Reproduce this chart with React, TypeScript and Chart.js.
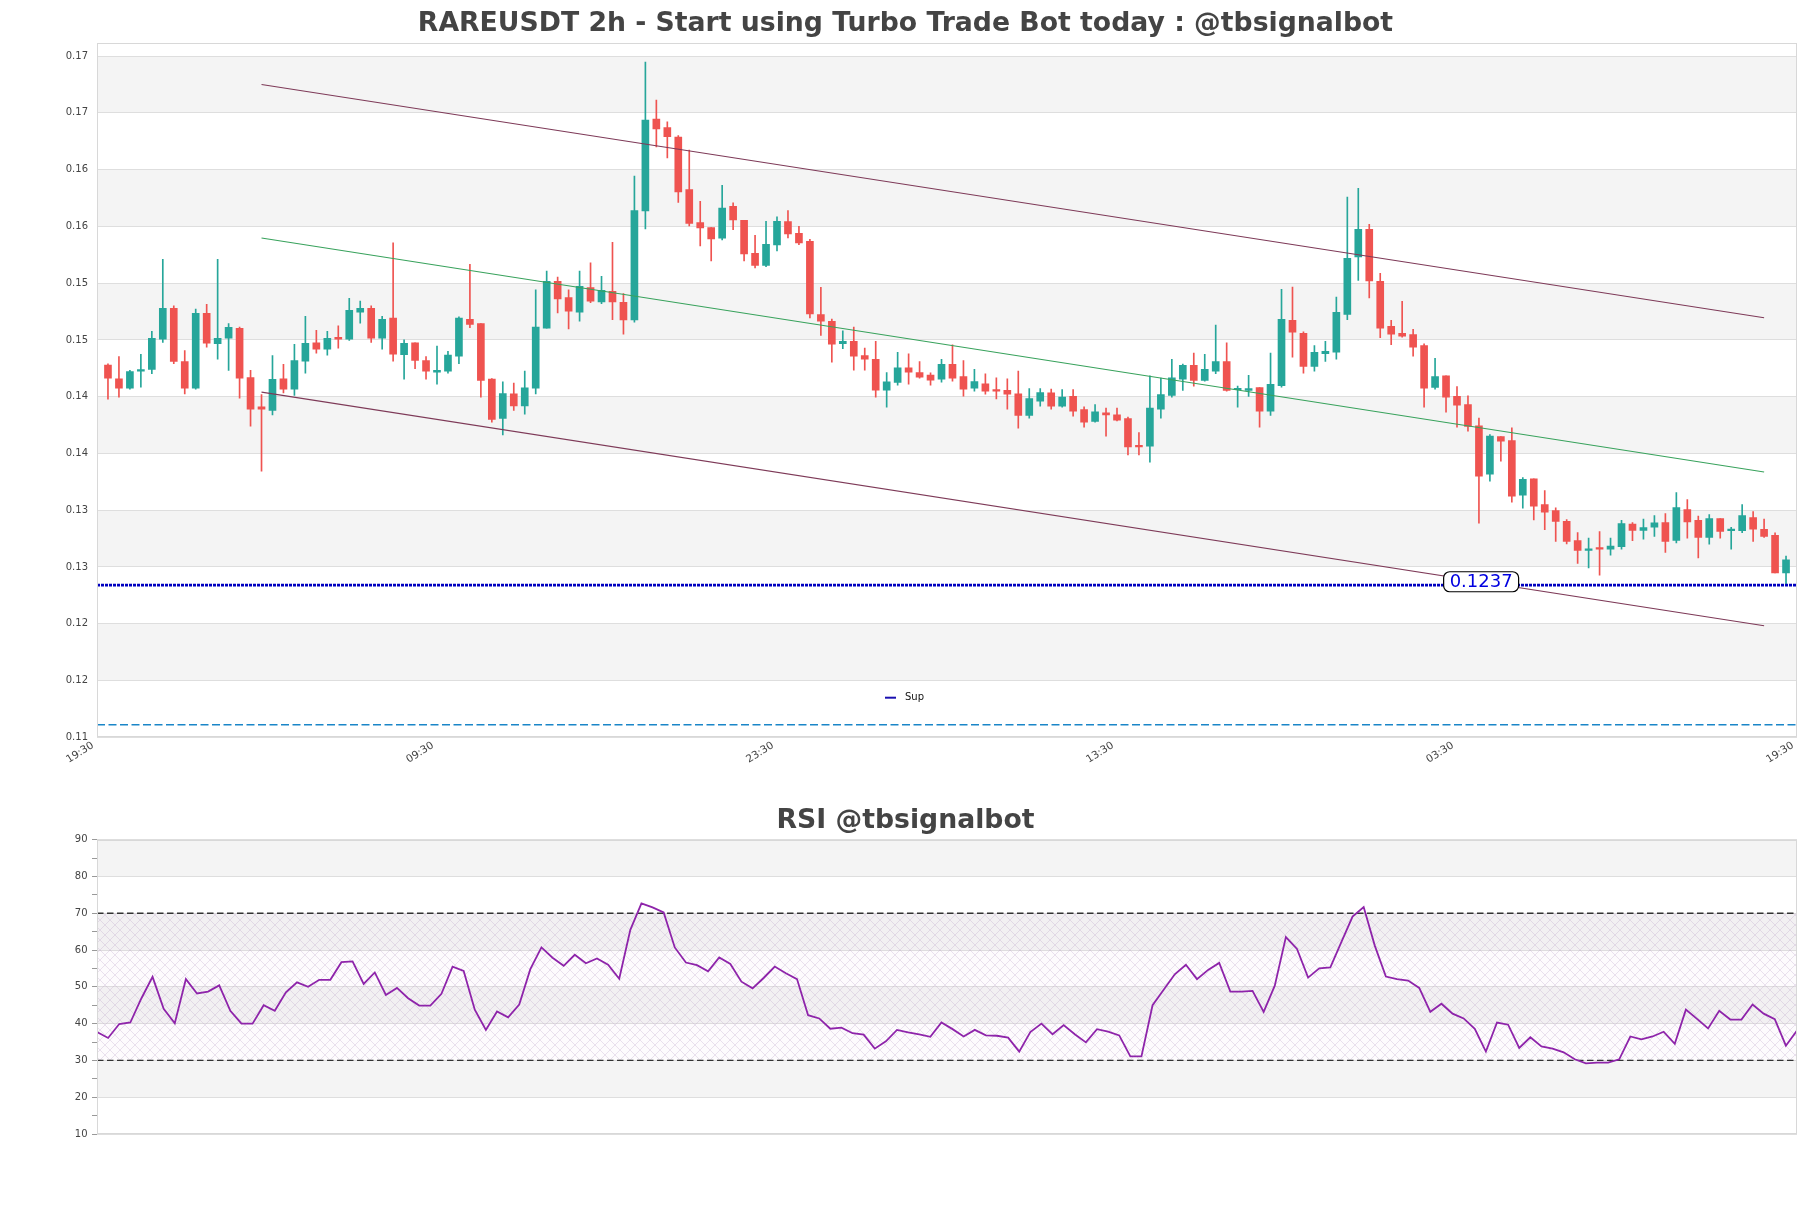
import React, { useEffect, useRef } from "react";
import { Chart, registerables } from "chart.js";

Chart.register(...registerables);

// ---------------- data ----------------
const mainTitle = "RAREUSDT 2h - Start using Turbo Trade Bot today : @tbsignalbot";
const rsiTitle = "RSI @tbsignalbot";

const opens = [
  0.14278, 0.14158, 0.14075, 0.14225, 0.1424, 0.14507, 0.14778, 0.1431, 0.14075, 0.14734,
  0.14466, 0.14516, 0.14601, 0.14169, 0.13911, 0.13878, 0.14158, 0.14066, 0.14313, 0.14475,
  0.14419, 0.14522, 0.14507, 0.14745, 0.14778, 0.14516, 0.14693, 0.14369, 0.14475, 0.14319,
  0.14216, 0.14225, 0.14357, 0.14681, 0.14643, 0.14155, 0.13808, 0.14025, 0.13919, 0.14075,
  0.14604, 0.15016, 0.14872, 0.14745, 0.1496, 0.14834, 0.14928, 0.14831, 0.14675, 0.15636,
  0.16444, 0.16371, 0.16286, 0.15824, 0.15533, 0.15489, 0.15395, 0.15677, 0.15554, 0.15263,
  0.15157, 0.15336, 0.15542, 0.15439, 0.15369, 0.14722, 0.14663, 0.14466, 0.14487, 0.14363,
  0.14328, 0.14058, 0.14125, 0.14255, 0.14213, 0.1419, 0.14155, 0.14284, 0.14178, 0.14075,
  0.14113, 0.14063, 0.14055, 0.14025, 0.13834, 0.13961, 0.14034, 0.13917, 0.14002, 0.13887,
  0.13781, 0.13858, 0.1384, 0.13808, 0.1357, 0.13564, 0.1389, 0.14011, 0.14155, 0.14275,
  0.14143, 0.14225, 0.1431, 0.14061, 0.14055, 0.14081, 0.13872, 0.14096, 0.14672, 0.14557,
  0.14266, 0.14378, 0.14393, 0.14725, 0.1523, 0.15474, 0.15016, 0.14619, 0.14557, 0.14548,
  0.14451, 0.14081, 0.14184, 0.14002, 0.13931, 0.13743, 0.13317, 0.13649, 0.13614, 0.13132,
  0.13276, 0.13049, 0.12996, 0.12902, 0.12732, 0.12647, 0.1267, 0.12656, 0.12679, 0.12879,
  0.12823, 0.1285, 0.12891, 0.12735, 0.13005, 0.12911, 0.12761, 0.12926, 0.1282, 0.1282,
  0.12935, 0.12832, 0.12779, 0.12447,
];

const closes = [
  0.14163, 0.14075, 0.14222, 0.14237, 0.14513, 0.14778, 0.1431, 0.14075, 0.14734, 0.14472,
  0.14513, 0.1461, 0.14163, 0.1389, 0.1389, 0.14152, 0.14066, 0.14319, 0.14469, 0.14419,
  0.14513, 0.14507, 0.1476, 0.14778, 0.14516, 0.14681, 0.14375, 0.14469, 0.14319, 0.14225,
  0.14231, 0.14366, 0.14693, 0.14637, 0.14143, 0.13799, 0.14028, 0.13919, 0.14078, 0.14613,
  0.15016, 0.1486, 0.14754, 0.14972, 0.14842, 0.14936, 0.14834, 0.14675, 0.15639, 0.16436,
  0.16359, 0.16289, 0.15804, 0.15527, 0.15486, 0.15389, 0.1566, 0.15557, 0.15257, 0.15157,
  0.15342, 0.15545, 0.15433, 0.15354, 0.14728, 0.14666, 0.14463, 0.14487, 0.14357, 0.14331,
  0.14058, 0.14131, 0.14255, 0.14216, 0.14172, 0.14146, 0.14284, 0.14163, 0.14066, 0.14134,
  0.14049, 0.14049, 0.14022, 0.13834, 0.13984, 0.14037, 0.13917, 0.13996, 0.13872, 0.13775,
  0.13867, 0.1384, 0.13793, 0.13558, 0.13558, 0.13899, 0.14019, 0.14166, 0.14275, 0.14143,
  0.1424, 0.1431, 0.14055, 0.14066, 0.14072, 0.13872, 0.14108, 0.14681, 0.14569, 0.14266,
  0.1439, 0.14399, 0.14743, 0.15219, 0.15474, 0.15019, 0.14604, 0.14551, 0.14534, 0.14437,
  0.14075, 0.14178, 0.13996, 0.13925, 0.13737, 0.13299, 0.13652, 0.13608, 0.13123, 0.13273,
  0.13035, 0.12982, 0.12902, 0.12726, 0.12647, 0.12658, 0.12656, 0.12685, 0.12882, 0.12823,
  0.12847, 0.12888, 0.12726, 0.13023, 0.12897, 0.12761, 0.12926, 0.12814, 0.12829, 0.12952,
  0.12832, 0.1277, 0.12447, 0.12564,
];

const highs = [
  0.1429, 0.14354, 0.14231, 0.14372, 0.14575, 0.1521, 0.14801, 0.14407, 0.14772, 0.14813,
  0.1521, 0.14643, 0.14613, 0.14231, 0.14019, 0.14363, 0.14284, 0.1446, 0.14707, 0.14584,
  0.14575, 0.14625, 0.14866, 0.14842, 0.14801, 0.14707, 0.15354, 0.14501, 0.14475, 0.14354,
  0.14446, 0.14399, 0.14704, 0.15166, 0.14643, 0.1416, 0.14131, 0.14119, 0.14225, 0.14942,
  0.15107, 0.15054, 0.14942, 0.15107, 0.15178, 0.1506, 0.1536, 0.14907, 0.15942, 0.16947,
  0.16612, 0.16421, 0.163, 0.16171, 0.15721, 0.15489, 0.15862, 0.15707, 0.15554, 0.15422,
  0.15545, 0.15583, 0.15639, 0.15501, 0.15386, 0.14963, 0.14684, 0.14581, 0.14613, 0.14428,
  0.14487, 0.14213, 0.1439, 0.14378, 0.1431, 0.1421, 0.14328, 0.14457, 0.14319, 0.1424,
  0.14202, 0.14166, 0.14158, 0.14225, 0.14072, 0.14072, 0.14066, 0.14063, 0.14063, 0.13911,
  0.13931, 0.13899, 0.13899, 0.1382, 0.13684, 0.14184, 0.14163, 0.14328, 0.14287, 0.14384,
  0.14372, 0.14631, 0.14475, 0.14093, 0.14187, 0.14081, 0.14384, 0.14945, 0.14966, 0.14572,
  0.14451, 0.14487, 0.14878, 0.15757, 0.15836, 0.15519, 0.15086, 0.14672, 0.1484, 0.14593,
  0.14466, 0.14337, 0.14184, 0.1409, 0.14008, 0.13811, 0.13667, 0.13649, 0.13725, 0.13287,
  0.13276, 0.13173, 0.1302, 0.12917, 0.12802, 0.12755, 0.12811, 0.12755, 0.12911, 0.12891,
  0.12923, 0.12952, 0.1297, 0.13155, 0.13093, 0.12949, 0.12961, 0.12926, 0.1285, 0.13049,
  0.12988, 0.12923, 0.128, 0.12597,
];

const lows = [
  0.13978, 0.13996, 0.14066, 0.14084, 0.14202, 0.14478, 0.1429, 0.14025, 0.14066, 0.14437,
  0.14331, 0.14231, 0.13987, 0.1374, 0.13343, 0.1384, 0.14034, 0.14011, 0.14208, 0.14384,
  0.14366, 0.14428, 0.14496, 0.14648, 0.14478, 0.14419, 0.14313, 0.14155, 0.14246, 0.14155,
  0.14111, 0.14208, 0.1429, 0.14607, 0.13996, 0.13775, 0.13664, 0.13878, 0.13846, 0.14025,
  0.14604, 0.14737, 0.14596, 0.14666, 0.14828, 0.14819, 0.14678, 0.14551, 0.14657, 0.15477,
  0.162, 0.16103, 0.1571, 0.15504, 0.15327, 0.15195, 0.1538, 0.15471, 0.15195, 0.15133,
  0.15145, 0.15283, 0.15398, 0.15339, 0.14693, 0.1454, 0.14305, 0.14422, 0.14234, 0.14234,
  0.13996, 0.13908, 0.14102, 0.14111, 0.14163, 0.14102, 0.14128, 0.14137, 0.14005, 0.14049,
  0.14022, 0.13981, 0.1389, 0.13723, 0.13811, 0.13917, 0.1389, 0.13908, 0.13828, 0.13731,
  0.13775, 0.13652, 0.13787, 0.13487, 0.13487, 0.13423, 0.13811, 0.13996, 0.14055, 0.14093,
  0.14137, 0.14202, 0.14049, 0.13908, 0.14002, 0.13731, 0.13834, 0.14084, 0.14349, 0.14208,
  0.14225, 0.1431, 0.14331, 0.14678, 0.15025, 0.14869, 0.14519, 0.14457, 0.14525, 0.14357,
  0.13908, 0.14066, 0.13864, 0.13731, 0.13696, 0.12885, 0.13255, 0.13431, 0.1307, 0.13017,
  0.12914, 0.12829, 0.12726, 0.12703, 0.12532, 0.12491, 0.12429, 0.12603, 0.12658, 0.12732,
  0.12744, 0.1277, 0.12629, 0.12711, 0.12753, 0.12579, 0.127, 0.12753, 0.12656, 0.12802,
  0.12726, 0.12761, 0.12447, 0.1235,
];

const rsiValues = [
  37.7, 36.1, 39.9, 40.3, 46.9, 52.7, 44.0, 40.1, 52.1, 48.2,
  48.7, 50.4, 43.5, 40.0, 40.0, 45.0, 43.5, 48.5, 51.2, 50.0,
  51.9, 51.9, 56.7, 56.9, 50.8, 53.9, 47.8, 49.7, 46.9, 44.9,
  44.9, 48.1, 55.5, 54.3, 43.8, 38.3, 43.3, 41.7, 45.2, 54.8,
  60.7, 57.9, 55.7, 58.7, 56.4, 57.7, 56.0, 52.2, 65.5, 72.7,
  71.6, 70.2, 60.7, 56.6, 55.9, 54.2, 58.0, 56.2, 51.4, 49.6,
  52.4, 55.5, 53.7, 52.1, 42.3, 41.4, 38.6, 38.9, 37.4, 37.0,
  33.2, 35.2, 38.3, 37.6, 37.1, 36.4, 40.3, 38.5, 36.5, 38.3,
  36.8, 36.7, 36.2, 32.4, 37.7, 40.0, 37.1, 39.6, 37.1, 34.9,
  38.5, 37.8, 36.8, 31.1, 31.1, 45.0, 49.2, 53.4, 56.0, 52.1,
  54.6, 56.5, 48.7, 48.7, 48.9, 43.2, 50.3, 63.5, 60.3, 52.5,
  55.0, 55.3, 62.2, 69.1, 71.7, 61.2, 52.8, 52.1, 51.7, 49.7,
  43.2, 45.4, 42.7, 41.4, 38.6, 32.4, 40.3, 39.7, 33.4, 36.3,
  33.8, 33.2, 32.2, 30.3, 29.2, 29.4, 29.4, 30.3, 36.5, 35.7,
  36.5, 37.8, 34.5, 43.8, 41.3, 38.7, 43.5, 41.1, 41.1, 45.2,
  42.7, 41.2, 34.0, 38.1,
];

const xTickPositions = [0, 31, 62, 93, 124, 155];
const xTickLabels = ["19:30", "09:30", "23:30", "13:30", "03:30", "19:30"];
const yTickValues = [0.11, 0.115, 0.12, 0.125, 0.13, 0.135, 0.14, 0.145, 0.15, 0.155, 0.16, 0.165, 0.17];
const yTickLabels = ["0.11", "0.12", "0.12", "0.13", "0.13", "0.14", "0.14", "0.15", "0.15", "0.16", "0.16", "0.17", "0.17"];
const priceBands = [[0.115, 0.12], [0.125, 0.13], [0.135, 0.14], [0.145, 0.15], [0.155, 0.16], [0.165, 0.17]];

const trendX = [15, 152];
const upperTrend = [0.1675, 0.14695];
const midTrend = [0.15398, 0.13337];
const lowerTrend = [0.1404, 0.11983];
const supLevel = 0.1234;
const baseLevel = 0.1111;
const priceLabelText = "0.1237";
const priceLabelValue = 0.1237;
const priceLabelX = 126.2;

const rsiTickValues = [10, 15, 20, 25, 30, 35, 40, 45, 50, 55, 60, 65, 70, 75, 80, 85, 90];
const rsiTickLabels = ["10", "", "20", "", "30", "", "40", "", "50", "", "60", "", "70", "", "80", "", "90"];
const rsiBands = [[20, 30], [40, 50], [60, 70], [80, 90]];
const rsiUpper = 70;
const rsiLower = 30;

// ---------------- styling ----------------
const UP = "#26a69a";
const DOWN = "#ef5350";
const FONT = "'DejaVu Sans', 'Liberation Sans', sans-serif";
const W = 1811;
const MAIN_H = 790;
const RSI_H = 418;

const bandsPlugin = {
  id: "bands",
  beforeDraw(chart: any, _args: any, opts: any) {
    const { ctx, chartArea: ca, scales } = chart;
    ctx.save();
    ctx.fillStyle = "#ffffff";
    ctx.fillRect(0, 0, chart.width, chart.height);
    ctx.fillStyle = opts.color;
    for (const [a, b] of opts.bands) {
      const yTop = scales.y.getPixelForValue(b);
      const yBot = scales.y.getPixelForValue(a);
      ctx.fillRect(ca.left, yTop, ca.right - ca.left, yBot - yTop);
    }
    ctx.restore();
  },
  afterDraw(chart: any) {
    const { ctx, chartArea: ca } = chart;
    ctx.save();
    ctx.strokeStyle = "#d8d8d8";
    ctx.lineWidth = 1;
    ctx.strokeRect(Math.round(ca.left) + 0.5, Math.round(ca.top) + 0.5, Math.round(ca.right - ca.left) - 1, Math.round(ca.bottom - ca.top) - 1);
    ctx.restore();
  },
};

const hatchPlugin = {
  id: "hatch",
  beforeDatasetsDraw(chart: any, _args: any, opts: any) {
    if (!opts || opts.from == null) return;
    const { ctx, chartArea: ca, scales } = chart;
    const yTop = scales.y.getPixelForValue(opts.to);
    const yBot = scales.y.getPixelForValue(opts.from);
    const pc = document.createElement("canvas");
    pc.width = 10;
    pc.height = 10;
    const p = pc.getContext("2d") as CanvasRenderingContext2D;
    p.strokeStyle = "rgba(180,150,195,0.45)";
    p.lineWidth = 0.6;
    p.beginPath();
    p.moveTo(0, 0);
    p.lineTo(10, 10);
    p.moveTo(10, 0);
    p.lineTo(0, 10);
    p.stroke();
    ctx.save();
    ctx.fillStyle = "rgba(225,200,232,0.08)";
    ctx.fillRect(ca.left, yTop, ca.right - ca.left, yBot - yTop);
    const pat = ctx.createPattern(pc, "repeat");
    if (pat) {
      ctx.fillStyle = pat;
      ctx.fillRect(ca.left, yTop, ca.right - ca.left, yBot - yTop);
    }
    ctx.restore();
  },
};

const priceLabelPlugin = {
  id: "priceLabel",
  afterDatasetsDraw(chart: any, _args: any, opts: any) {
    if (!opts || !opts.text) return;
    const { ctx, scales } = chart;
    const x = scales.x.getPixelForValue(opts.x);
    const y = scales.y.getPixelForValue(opts.value);
    ctx.save();
    ctx.font = `18px ${FONT}`;
    const w = ctx.measureText(opts.text).width + 12;
    const h = 20;
    ctx.beginPath();
    if ((ctx as any).roundRect) (ctx as any).roundRect(x - w / 2, y - h / 2, w, h, 6);
    else ctx.rect(x - w / 2, y - h / 2, w, h);
    ctx.fillStyle = "#ffffff";
    ctx.fill();
    ctx.lineWidth = 1.2;
    ctx.strokeStyle = "#000000";
    ctx.stroke();
    ctx.fillStyle = "#0000e0";
    ctx.textAlign = "center";
    ctx.textBaseline = "middle";
    ctx.fillText(opts.text, x, y + 1);
    ctx.restore();
  },
};

const insideLegendPlugin = {
  id: "insideLegend",
  afterDatasetsDraw(chart: any, _args: any, opts: any) {
    if (!opts || !opts.label) return;
    const ds = chart.data.datasets.find((d: any) => d.label === opts.label);
    if (!ds) return;
    const { ctx, chartArea: ca } = chart;
    const x = ca.left + opts.offsetX;
    const y = ca.bottom - opts.offsetY;
    ctx.save();
    ctx.strokeStyle = opts.color;
    ctx.lineWidth = 2;
    ctx.beginPath();
    ctx.moveTo(x, y);
    ctx.lineTo(x + 11, y);
    ctx.stroke();
    ctx.font = `10px ${FONT}`;
    ctx.fillStyle = "#111";
    ctx.textBaseline = "middle";
    ctx.textAlign = "left";
    ctx.fillText(ds.label, x + 20, y);
    ctx.restore();
  },
};

export default function App() {
  const mainRef = useRef<HTMLCanvasElement | null>(null);
  const rsiRef = useRef<HTMLCanvasElement | null>(null);

  useEffect(() => {
    if (!mainRef.current || !rsiRef.current) return;
    const colors = opens.map((o, i) => (closes[i] >= o ? UP : DOWN));
    const bodies = opens.map((o, i) => ({ x: i + 1, y: [o, closes[i]] }));
    const wicks = lows.map((l, i) => ({ x: i + 1, y: [l, highs[i]] }));
    const lineDs = (label: string, ys: number[], color: string, width: number, dash: number[] = []) => ({
      type: "line" as const,
      label,
      data: trendX.map((x, k) => ({ x, y: ys[k] })),
      borderColor: color,
      borderWidth: width,
      borderDash: dash,
      pointRadius: 0,
      fill: false,
    });

    const mainChart = new Chart(mainRef.current, {
      type: "bar",
      data: {
        datasets: [
          lineDs("Upper", upperTrend, "#7e3a58", 1.1),
          lineDs("Middle", midTrend, "#38a25c", 1.1),
          lineDs("Lower", lowerTrend, "#7e3a58", 1.1),
          {
            type: "line",
            label: "Sup",
            data: [{ x: 0, y: supLevel }, { x: 155, y: supLevel }],
            borderColor: "#0000c0",
            borderWidth: 2.6,
            borderDash: [3, 1],
            pointRadius: 0,
            fill: false,
          },
          {
            type: "line",
            label: "Base",
            data: [{ x: 0, y: baseLevel }, { x: 155, y: baseLevel }],
            borderColor: "#1a86c8",
            borderWidth: 1.5,
            borderDash: [8, 3.5],
            pointRadius: 0,
            fill: false,
          },
          {
            type: "bar",
            label: "Body",
            data: bodies as any,
            backgroundColor: colors,
            borderWidth: 0,
            barThickness: 7,
            grouped: false,
            minBarLength: 1.5,
          },
          {
            type: "bar",
            label: "Wick",
            data: wicks as any,
            backgroundColor: colors,
            borderWidth: 0,
            barThickness: 1,
            grouped: false,
          },
        ] as any,
      },
      options: {
        animation: false,
        responsive: false,
        devicePixelRatio: 1,
        events: [],
        layout: { padding: { left: 14, right: 14, top: 0, bottom: 0 } },
        plugins: {
          legend: { display: false },
          tooltip: { enabled: false },
          title: {
            display: true,
            text: mainTitle,
            color: "#444444",
            font: { family: FONT, size: 26.7, weight: "bold" },
            padding: { top: 8.2, bottom: 3.1 },
          },
          bands: { bands: priceBands, color: "#f4f4f4" },
          priceLabel: { text: priceLabelText, value: priceLabelValue, x: priceLabelX },
          insideLegend: { label: "Sup", offsetX: 788, offsetY: 39.6, color: "#1a10b0" },
        } as any,
        scales: {
          x: {
            type: "linear",
            min: 0,
            max: 155,
            offset: false,
            grid: { display: false },
            border: { display: false },
            afterBuildTicks: (s: any) => {
              s.ticks = xTickPositions.map((v) => ({ value: v }));
            },
            afterFit: (s: any) => {
              s.height = 52.7;
            },
            ticks: {
              autoSkip: false,
              maxRotation: 32,
              minRotation: 32,
              color: "#444444",
              padding: -6,
              labelOffset: -4,
              font: { family: FONT, size: 10.5 },
              callback: (_v: any, i: number) => xTickLabels[i],
            },
          },
          y: {
            type: "linear",
            min: 0.11,
            max: 0.17112,
            grid: { color: "#dedede", drawTicks: false, lineWidth: 1 },
            border: { display: false },
            afterBuildTicks: (s: any) => {
              s.ticks = yTickValues.map((v) => ({ value: v }));
            },
            afterFit: (s: any) => {
              s.width = 83;
            },
            ticks: {
              color: "#444444",
              padding: 9,
              font: { family: FONT, size: 10 },
              callback: (_v: any, i: number) => yTickLabels[i],
            },
          },
        } as any,
      },
      plugins: [bandsPlugin, priceLabelPlugin, insideLegendPlugin],
    });

    const rsiChart = new Chart(rsiRef.current, {
      type: "line",
      data: {
        datasets: [
          {
            label: "RSI",
            data: rsiValues.map((v, i) => ({ x: i + 1, y: v })),
            borderColor: "#8e24aa",
            borderWidth: 1.8,
            pointRadius: 0,
            fill: false,
            tension: 0,
          },
          {
            label: "Overbought",
            data: [{ x: 1, y: rsiUpper }, { x: 154, y: rsiUpper }],
            borderColor: "#333333",
            borderWidth: 1.3,
            borderDash: [6.5, 3.5],
            pointRadius: 0,
            fill: false,
          },
          {
            label: "Oversold",
            data: [{ x: 1, y: rsiLower }, { x: 154, y: rsiLower }],
            borderColor: "#333333",
            borderWidth: 1.3,
            borderDash: [6.5, 3.5],
            pointRadius: 0,
            fill: false,
          },
        ] as any,
      },
      options: {
        animation: false,
        responsive: false,
        devicePixelRatio: 1,
        events: [],
        layout: { padding: { left: 14, right: 14, top: 0, bottom: 74 } },
        plugins: {
          legend: { display: false },
          tooltip: { enabled: false },
          title: {
            display: true,
            text: rsiTitle,
            color: "#444444",
            font: { family: FONT, size: 26.7, weight: "bold" },
            padding: { top: 15.1, bottom: 2.5 },
          },
          bands: { bands: rsiBands, color: "#f4f4f4" },
          hatch: { from: rsiLower, to: rsiUpper },
        } as any,
        scales: {
          x: { type: "linear", min: 1, max: 154, display: false },
          y: {
            type: "linear",
            min: 10,
            max: 90,
            border: { display: false },
            grid: {
              color: (c: any) => (rsiTickLabels[c.index] ? "#dedede" : "rgba(0,0,0,0)"),
              tickColor: "#999999",
              tickLength: 5,
              drawTicks: true,
            },
            afterBuildTicks: (s: any) => {
              s.ticks = rsiTickValues.map((v) => ({ value: v }));
            },
            afterFit: (s: any) => {
              s.width = 83;
            },
            ticks: {
              autoSkip: false,
              color: "#444444",
              padding: 4.5,
              font: { family: FONT, size: 10 },
              callback: (_v: any, i: number) => rsiTickLabels[i],
            },
          },
        } as any,
      },
      plugins: [bandsPlugin, hatchPlugin],
    });

    return () => {
      mainChart.destroy();
      rsiChart.destroy();
    };
  }, []);

  return (
    <div style={{ position: "absolute", left: 0, top: 0, width: W, height: MAIN_H + RSI_H, background: "#ffffff" }}>
      <canvas
        ref={mainRef}
        width={W}
        height={MAIN_H}
        style={{ position: "absolute", left: 0, top: 0, width: W, height: MAIN_H, display: "block" }}
      />
      <canvas
        ref={rsiRef}
        width={W}
        height={RSI_H}
        style={{ position: "absolute", left: 0, top: MAIN_H, width: W, height: RSI_H, display: "block" }}
      />
    </div>
  );
}
